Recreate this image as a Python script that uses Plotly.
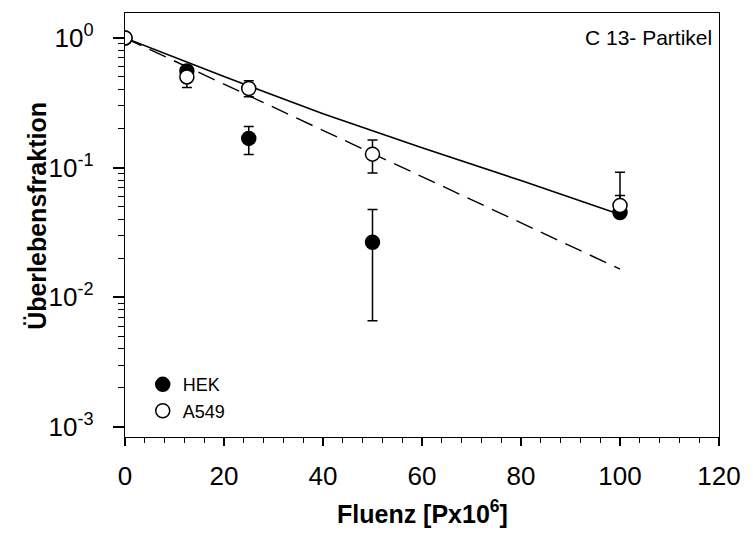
import plotly.graph_objects as go

# ---- data ----
fluence = [0, 12.5, 25, 50, 100]

hek_y = [1.0, 0.555, 0.168, 0.0266, 0.045]
hek_err_plus = [0, 0, 0.039, 0.021, 0.016]
hek_err_minus = [0, 0, 0.042, 0.020, 0]

a549_y = [1.0, 0.50, 0.407, 0.127, 0.051]
a549_err_plus = [0, 0.085, 0.060, 0.036, 0.041]
a549_err_minus = [0, 0.085, 0.055, 0.036, 0]

fit_solid_x = [0, 20, 40, 60, 80, 100]
fit_solid_y = [1.0, 0.504, 0.26, 0.142, 0.0794, 0.0435]

fit_dash_x = [0, 100]
fit_dash_y = [1.0, 0.0165]

x_tickvals = [0, 20, 40, 60, 80, 100, 120]
y_tickvals = [1e-3, 1e-2, 1e-1, 1]
y_ticktext = ["10<sup>-3</sup>", "10<sup>-2</sup>", "10<sup>-1</sup>", "10<sup>0</sup>"]

# minor tick positions (axis styling)
x_minor = [v for v in range(0, 121, 4) if v % 20 != 0]
y_minor = [k * 10.0 ** p for p in (-3, -2, -1) for k in range(2, 10)]

FONT = "Liberation Sans, Arial, sans-serif"
Y_RANGE = [-3.077, 0.192]

fig = go.Figure()

fig.add_trace(go.Scatter(x=fit_solid_x, y=fit_solid_y, mode="lines",
                         line=dict(color="black", width=1.6), showlegend=False,
                         hoverinfo="skip"))
fig.add_trace(go.Scatter(x=fit_dash_x, y=fit_dash_y, mode="lines",
                         line=dict(color="black", width=1.4, dash="18px,9px"),
                         showlegend=False, hoverinfo="skip"))

fig.add_trace(go.Scatter(
    x=fluence, y=hek_y, mode="markers", name="HEK",
    marker=dict(symbol="circle", size=14, color="black",
                line=dict(color="black", width=1.5)),
    error_y=dict(type="data", symmetric=False, array=hek_err_plus,
                 arrayminus=hek_err_minus, color="black", thickness=1.5, width=5),
))
fig.add_trace(go.Scatter(
    x=fluence, y=a549_y, mode="markers", name="A549",
    marker=dict(symbol="circle", size=14, color="white",
                line=dict(color="black", width=1.5)),
    error_y=dict(type="data", symmetric=False, array=a549_err_plus,
                 arrayminus=a549_err_minus, color="black", thickness=1.5, width=5),
))
# invisible helper trace so the minor-tick overlay axis is rendered
fig.add_trace(go.Scatter(x=fluence, y=a549_y, yaxis="y2", mode="markers",
                         marker=dict(size=1, opacity=0), showlegend=False,
                         hoverinfo="skip"))

fig.update_layout(
    width=753, height=533,
    margin=dict(l=125, r=25, t=12, b=96),
    paper_bgcolor="white", plot_bgcolor="white",
    font=dict(family=FONT, color="black"),
    legend=dict(x=(143 - 125) / 603, y=(437 - 366) / 425, xanchor="left", yanchor="top",
                bgcolor="rgba(0,0,0,0)", font=dict(size=18, family=FONT),
                itemsizing="trace", tracegroupgap=0),
    annotations=[
        dict(text="C 13- Partikel", xref="paper", yref="paper",
             x=(723 - 125) / 603, y=(437 - 37) / 425, xanchor="right", yanchor="middle",
             showarrow=False, font=dict(size=21, family=FONT)),
        dict(text="<b>Überlebensfraktion</b>", xref="paper", yref="paper",
             x=(35 - 125) / 603, y=(437 - 215) / 425, xanchor="center", yanchor="middle",
             textangle=-90, showarrow=False, font=dict(size=25, family=FONT)),
        dict(text="<b>Fluenz [Px10<sup>6</sup>]</b>", xref="paper", yref="paper",
             x=0.5, y=(437 - 512) / 425, xanchor="center", yanchor="middle",
             showarrow=False, font=dict(size=25, family=FONT)),
    ],
    xaxis=dict(
        range=[0, 120], tickmode="array", tickvals=x_tickvals,
        showgrid=False, zeroline=False,
        showline=True, linecolor="black", linewidth=1.4, mirror=True,
        ticks="outside", ticklen=8, tickwidth=1.5, tickcolor="black",
        tickfont=dict(size=26, family=FONT), ticklabelstandoff=8,
        minor=dict(tickmode="array", tickvals=x_minor, ticks="outside", ticklen=5,
                   tickwidth=1.4, tickcolor="black", showgrid=False),
    ),
    yaxis=dict(
        type="log", range=Y_RANGE, tickmode="array",
        tickvals=y_tickvals, ticktext=y_ticktext,
        showgrid=False, zeroline=False,
        showline=True, linecolor="black", linewidth=1.4, mirror=True,
        ticks="outside", ticklen=11, tickwidth=1.5, tickcolor="black",
        tickfont=dict(size=26, family=FONT), ticklabelstandoff=14,
    ),
    yaxis2=dict(
        type="log", range=Y_RANGE, overlaying="y", side="left", anchor="x",
        tickmode="array", tickvals=y_minor,
        showgrid=False, zeroline=False, showline=False,
        ticks="outside", ticklen=6, tickwidth=1.4, tickcolor="black",
        showticklabels=False,
    ),
)

fig.write_html("out.html")
